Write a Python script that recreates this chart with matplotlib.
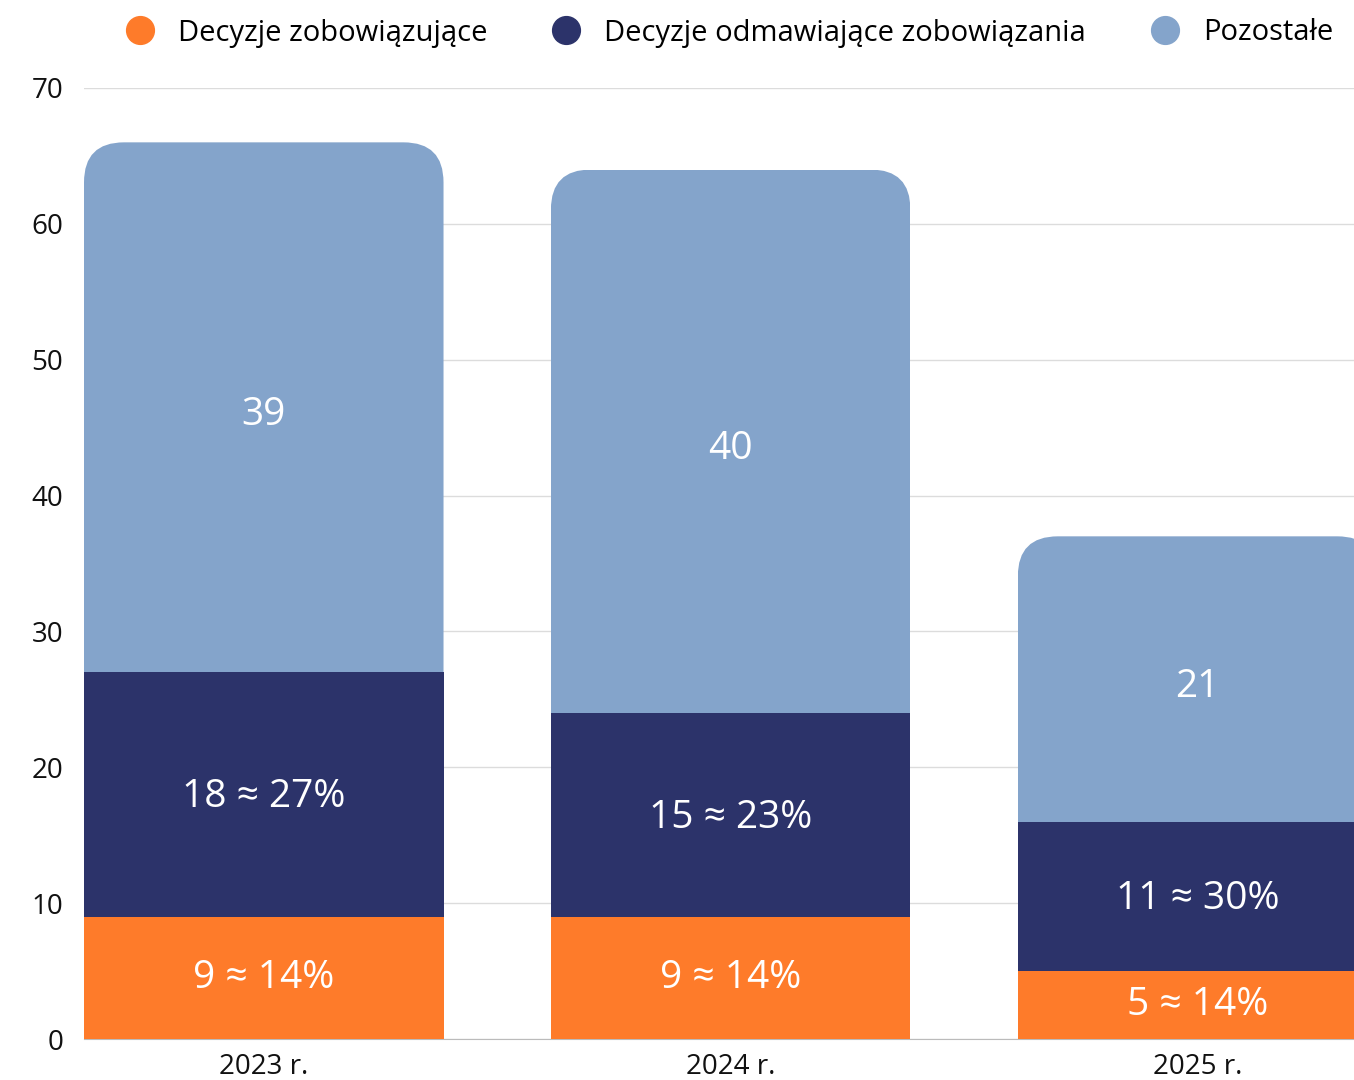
import matplotlib.pyplot as plt
from matplotlib.patches import FancyBboxPatch
from matplotlib.lines import Line2D

plt.rcParams['font.family'] = ['Open Sans', 'DejaVu Sans']

years = ['2023 r.', '2024 r.', '2025 r.']
binding = [9, 9, 5]
refusals = [18, 15, 11]
other = [39, 40, 21]
binding_pct = [14, 14, 14]
refusals_pct = [27, 23, 30]
series_names = ['Decyzje zobowiązujące', 'Decyzje odmawiające zobowiązania', 'Pozostałe']

c_orange = '#FE7B2A'
c_navy = '#2C336A'
c_blue = '#84A4CB'

fig = plt.figure(figsize=(13.54, 10.8), dpi=100)
ax = fig.add_axes([84 / 1354, 1 - 1039 / 1080, 1 - 84 / 1354, (1039 - 88) / 1080])

x = list(range(len(years)))
width = 0.77
bottom2 = [a + b for a, b in zip(binding, refusals)]

b1 = ax.bar(x, binding, width, color=c_orange, zorder=3)
b2 = ax.bar(x, refusals, width, bottom=binding, color=c_navy, zorder=3)
b3 = ax.bar(x, other, width, bottom=bottom2, color=c_blue, zorder=3)

ax.set_xlim(-width / 2, 2.335)
ax.set_ylim(0, 70)

# rounded top corners on the top segment (clip with a rounded box)
fig.canvas.draw()
p0 = ax.transData.transform((0, 0))
p1 = ax.transData.transform((1, 1))
aspect = (p1[0] - p0[0]) / (p1[1] - p0[1])
r = 40 / (p1[0] - p0[0])
for rect in b3:
    clip = FancyBboxPatch((rect.get_x(), rect.get_y() - 5), rect.get_width(),
                          rect.get_height() + 5,
                          boxstyle='round,pad=0,rounding_size=%f' % r,
                          mutation_aspect=aspect, transform=ax.transData)
    rect.set_clip_path(clip)

lab_kw = dict(ha='center', va='center', color='white', fontsize=28)
for i in x:
    ax.text(i, binding[i] / 2, '%d ≈ %d%%' % (binding[i], binding_pct[i]), **lab_kw)
    ax.text(i, binding[i] + refusals[i] / 2 - 0.2, '%d ≈ %d%%' % (refusals[i], refusals_pct[i]), **lab_kw)
    ax.text(i, bottom2[i] + other[i] / 2 - 0.6, '%d' % other[i], **lab_kw)

ax.set_yticks(range(0, 71, 10))
ax.set_xticks(x)
ax.set_xticklabels(years)
ax.tick_params(axis='both', length=0, labelsize=20, colors='#111111')
ax.tick_params(axis='y', pad=15)
ax.tick_params(axis='x', pad=10)
ax.grid(axis='y', color='#dcdcdc', linewidth=1, zorder=0)
for s in ['top', 'right', 'left']:
    ax.spines[s].set_visible(False)
ax.spines['bottom'].set_color('#bbbbbb')

handles = [Line2D([], [], marker='o', linestyle='', markersize=20, color=c)
           for c in [c_orange, c_navy, c_blue]]
fig.legend(handles, series_names, loc='center', bbox_to_anchor=(722 / 1354, 1 - 33 / 1080),
           ncol=3, frameon=False, fontsize=21, handletextpad=0.3, columnspacing=1.7)

fig.savefig('out.png', dpi=100)
